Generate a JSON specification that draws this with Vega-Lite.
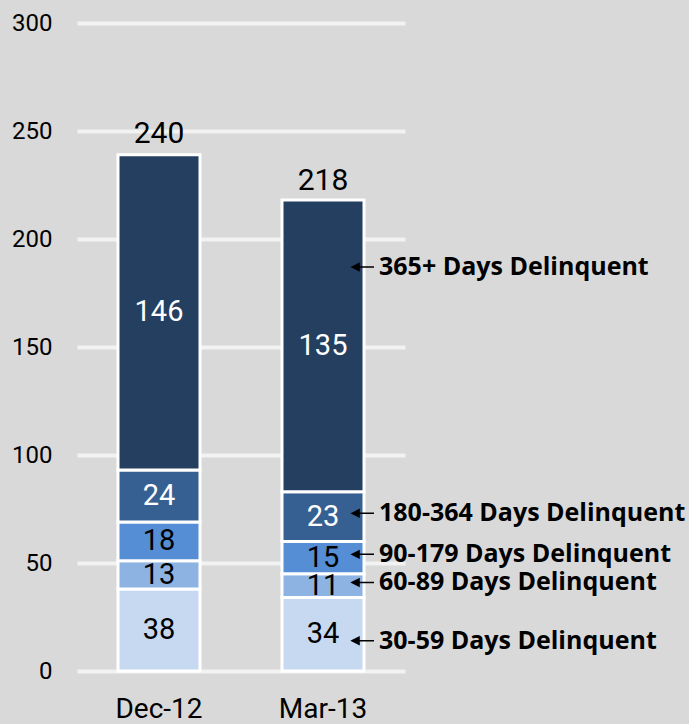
{
  "$schema": "https://vega.github.io/schema/vega-lite/v6.json",
  "width": 328,
  "height": 648,
  "autosize": {"type": "none"},
  "padding": {"left": 77, "top": 23, "right": 284, "bottom": 53},
  "background": "#d9d9d9",
  "config": {"view": {"stroke": null}, "font": "Roboto"},
  "datasets": {
    "segments": [
      {"period": "Dec-12", "bucket": "30-59 Days Delinquent", "rank": 1, "value": 38},
      {"period": "Dec-12", "bucket": "60-89 Days Delinquent", "rank": 2, "value": 13},
      {"period": "Dec-12", "bucket": "90-179 Days Delinquent", "rank": 3, "value": 18},
      {"period": "Dec-12", "bucket": "180-364 Days Delinquent", "rank": 4, "value": 24},
      {"period": "Dec-12", "bucket": "365+ Days Delinquent", "rank": 5, "value": 146},
      {"period": "Mar-13", "bucket": "30-59 Days Delinquent", "rank": 1, "value": 34},
      {"period": "Mar-13", "bucket": "60-89 Days Delinquent", "rank": 2, "value": 11},
      {"period": "Mar-13", "bucket": "90-179 Days Delinquent", "rank": 3, "value": 15},
      {"period": "Mar-13", "bucket": "180-364 Days Delinquent", "rank": 4, "value": 23},
      {"period": "Mar-13", "bucket": "365+ Days Delinquent", "rank": 5, "value": 135}
    ],
    "totals": [
      {"period": "Dec-12", "total": 240},
      {"period": "Mar-13", "total": 218}
    ],
    "annotations": [
      {"period": "Mar-13", "label": "365+ Days Delinquent", "at": 187},
      {"period": "Mar-13", "label": "180-364 Days Delinquent", "at": 73},
      {"period": "Mar-13", "label": "90-179 Days Delinquent", "at": 54},
      {"period": "Mar-13", "label": "60-89 Days Delinquent", "at": 41},
      {"period": "Mar-13", "label": "30-59 Days Delinquent", "at": 14}
    ]
  },
  "encoding": {
    "x": {
      "field": "period",
      "type": "nominal",
      "scale": {"domain": ["Dec-12", "Mar-13"], "paddingInner": 0.5, "paddingOuter": 0.25},
      "axis": {
        "title": null,
        "labelAngle": 0,
        "domain": false,
        "ticks": false,
        "labelFont": "Roboto",
        "labelFontSize": 28,
        "labelColor": "#000000",
        "labelPadding": 24
      }
    }
  },
  "layer": [
    {
      "data": {"name": "segments"},
      "mark": {"type": "bar", "stroke": "#ffffff", "strokeWidth": 3},
      "encoding": {
        "y": {
          "field": "value",
          "type": "quantitative",
          "stack": "zero",
          "scale": {"domain": [0, 300]},
          "axis": {
            "title": null,
            "values": [0, 50, 100, 150, 200, 250, 300],
            "grid": true,
            "gridColor": "#f2f2f2",
            "gridWidth": 4,
            "domain": false,
            "ticks": false,
            "labelFont": "Roboto",
            "labelFontSize": 24,
            "labelColor": "#000000",
            "labelPadding": 25
          }
        },
        "order": {"field": "rank", "type": "quantitative"},
        "color": {
          "field": "bucket",
          "type": "nominal",
          "scale": {
            "domain": ["30-59 Days Delinquent", "60-89 Days Delinquent", "90-179 Days Delinquent", "180-364 Days Delinquent", "365+ Days Delinquent"],
            "range": ["#c6d9f1", "#8db3e2", "#558ed5", "#376092", "#243f60"]
          },
          "legend": null
        }
      }
    },
    {
      "data": {"name": "segments"},
      "mark": {"type": "text", "font": "Roboto", "fontSize": 29, "baseline": "middle", "align": "center"},
      "encoding": {
        "y": {"field": "value", "type": "quantitative", "stack": "zero", "bandPosition": 0.5, "scale": {"domain": [0, 300]}},
        "order": {"field": "rank", "type": "quantitative"},
        "text": {"field": "value", "type": "quantitative"},
        "color": {
          "condition": {"test": "datum.rank >= 4", "value": "#ffffff"},
          "value": "#000000"
        }
      }
    },
    {
      "data": {"name": "totals"},
      "mark": {"type": "text", "font": "Roboto", "fontSize": 30, "baseline": "bottom", "align": "center", "dy": -4, "color": "#000000"},
      "encoding": {
        "y": {"field": "total", "type": "quantitative", "scale": {"domain": [0, 300]}},
        "text": {"field": "total", "type": "quantitative"}
      }
    },
    {
      "data": {"name": "annotations"},
      "mark": {
        "type": "point",
        "shape": "M-1,0L-0.36,-0.32L-0.36,0.32Z M-0.5,0L1,0",
        "size": 484,
        "filled": true,
        "fill": "#000000",
        "stroke": "#000000",
        "strokeWidth": 1.5,
        "opacity": 1,
        "xOffset": 40
      },
      "encoding": {
        "y": {"field": "at", "type": "quantitative", "scale": {"domain": [0, 300]}}
      }
    },
    {
      "data": {"name": "annotations"},
      "mark": {"type": "text", "font": "Open Sans", "fontSize": 25, "fontWeight": "bold", "baseline": "middle", "align": "left", "dx": 56, "color": "#000000"},
      "encoding": {
        "y": {"field": "at", "type": "quantitative", "scale": {"domain": [0, 300]}},
        "text": {"field": "label", "type": "nominal"}
      }
    }
  ]
}
